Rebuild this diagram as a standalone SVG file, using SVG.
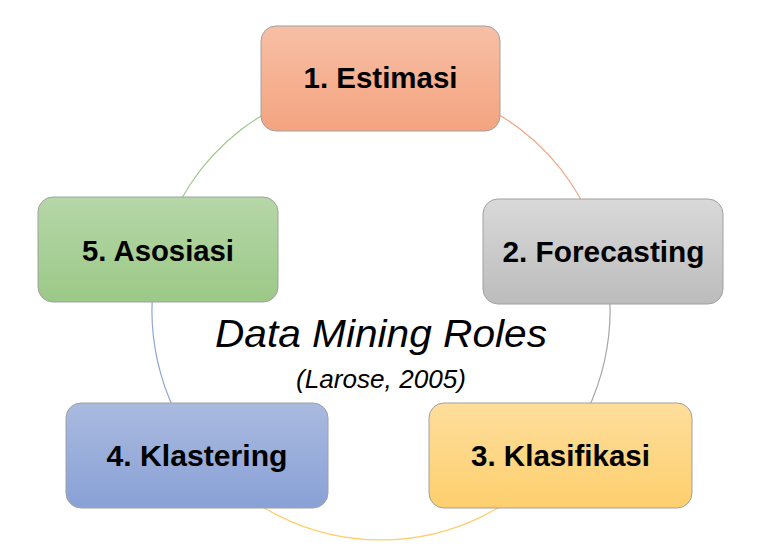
<svg xmlns="http://www.w3.org/2000/svg" width="768" height="554" viewBox="0 0 768 554">
<defs>
<linearGradient id="g1" x1="0" y1="0" x2="0" y2="1"><stop offset="0" stop-color="#F7BFA6"/><stop offset="1" stop-color="#F4A47F"/></linearGradient>
<linearGradient id="g2" x1="0" y1="0" x2="0" y2="1"><stop offset="0" stop-color="#D9D9D9"/><stop offset="1" stop-color="#BCBCBC"/></linearGradient>
<linearGradient id="g3" x1="0" y1="0" x2="0" y2="1"><stop offset="0" stop-color="#FEDE9C"/><stop offset="1" stop-color="#FDCF6E"/></linearGradient>
<linearGradient id="g4" x1="0" y1="0" x2="0" y2="1"><stop offset="0" stop-color="#AABADF"/><stop offset="1" stop-color="#89A1D6"/></linearGradient>
<linearGradient id="g5" x1="0" y1="0" x2="0" y2="1"><stop offset="0" stop-color="#B6D7A8"/><stop offset="1" stop-color="#9BC987"/></linearGradient>
</defs>
<style>
.box{stroke:#A0A0A0;stroke-width:1}
.lbl{font-family:"Liberation Sans",Arial,sans-serif;font-weight:bold;font-size:30px;fill:#000;text-anchor:middle}
.arc{fill:none;stroke-width:1.2}
.title{font-family:"Liberation Sans",Arial,sans-serif;font-style:italic;fill:#000;text-anchor:middle}
</style>
<rect width="768" height="554" fill="#FFFFFF"/>
<g id="connectors">
<path class="arc" stroke="#F4A47F" d="M381,82 A229,229 0 0 1 602.2,251.7"/>
<path class="arc" stroke="#A6A6A6" d="M602.2,251.7 A229,229 0 0 1 556.4,458.2"/>
<path class="arc" stroke="#FDCF6E" d="M556.4,458.2 A229,229 0 0 1 205.6,458.2"/>
<path class="arc" stroke="#8EA5D8" d="M205.6,458.2 A229,229 0 0 1 159.8,251.7"/>
<path class="arc" stroke="#9BC987" d="M159.8,251.7 A229,229 0 0 1 381,82"/>
</g>
<g id="node1">
<rect class="box" x="261" y="26" width="239" height="105" rx="15" fill="url(#g1)"/>
<text class="lbl" x="380.5" y="88" textLength="154" lengthAdjust="spacingAndGlyphs">1. Estimasi</text>
</g>
<g id="node2">
<rect class="box" x="483" y="199" width="240" height="105" rx="15" fill="url(#g2)"/>
<text class="lbl" x="603.5" y="262" textLength="202" lengthAdjust="spacingAndGlyphs">2. Forecasting</text>
</g>
<g id="node3">
<rect class="box" x="429" y="403" width="263" height="105" rx="15" fill="url(#g3)"/>
<text class="lbl" x="560.5" y="466" textLength="179" lengthAdjust="spacingAndGlyphs">3. Klasifikasi</text>
</g>
<g id="node4">
<rect class="box" x="66" y="403" width="262" height="105" rx="15" fill="url(#g4)"/>
<text class="lbl" x="197" y="466" textLength="181" lengthAdjust="spacingAndGlyphs">4. Klastering</text>
</g>
<g id="node5">
<rect class="box" x="38" y="197" width="240" height="105" rx="15" fill="url(#g5)"/>
<text class="lbl" x="158" y="261" textLength="152" lengthAdjust="spacingAndGlyphs">5. Asosiasi</text>
</g>
<g id="center-label">
<text class="title" x="381" y="347" font-size="38" textLength="332" lengthAdjust="spacingAndGlyphs">Data Mining Roles</text>
<text class="title" x="381" y="388" font-size="26" textLength="170" lengthAdjust="spacingAndGlyphs">(Larose, 2005)</text>
</g>
</svg>
